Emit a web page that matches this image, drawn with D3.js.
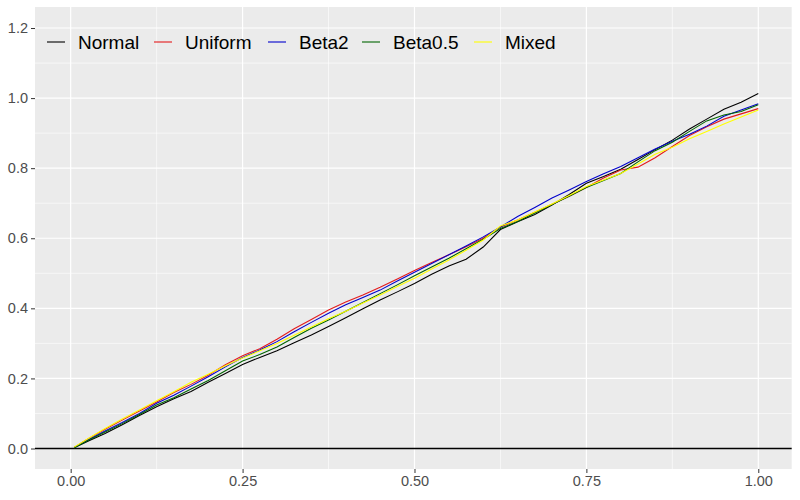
<!DOCTYPE html>
<html>
<head>
<meta charset="utf-8">
<script src="https://cdn.jsdelivr.net/npm/d3@7"></script>
<style>
  body { margin: 0; background: #fff; }
  text { font-family: "Liberation Sans", Arial, sans-serif; }
</style>
</head>
<body>
<svg id="chart" width="800" height="500"></svg>
<script>
// data
var xs = [0.005, 0.025, 0.05, 0.075, 0.1, 0.125, 0.15, 0.175, 0.2, 0.225, 0.25, 0.275, 0.3, 0.325, 0.35, 0.375, 0.4, 0.425, 0.45, 0.475, 0.5,
          0.525, 0.55, 0.575, 0.6, 0.625, 0.65, 0.675, 0.7, 0.725, 0.75, 0.775, 0.8, 0.825, 0.85, 0.875, 0.9, 0.925, 0.95, 0.975, 1.0];
var normalVals  = [0.002, 0.021, 0.043, 0.068, 0.094, 0.119, 0.142, 0.163, 0.189, 0.214, 0.240, 0.260, 0.279, 0.302, 0.324, 0.348, 0.373, 0.399, 0.424, 0.447, 0.471,
                   0.497, 0.521, 0.540, 0.575, 0.625, 0.647, 0.668, 0.695, 0.725, 0.757, 0.776, 0.797, 0.825, 0.853, 0.880, 0.912, 0.940, 0.968, 0.988, 1.013];
var uniformVals = [0.003, 0.027, 0.055, 0.081, 0.107, 0.133, 0.160, 0.183, 0.209, 0.239, 0.265, 0.285, 0.312, 0.342, 0.368, 0.395, 0.418, 0.438, 0.460, 0.484, 0.508,
                   0.531, 0.553, 0.576, 0.600, 0.632, 0.652, 0.674, 0.697, 0.720, 0.745, 0.772, 0.795, 0.803, 0.830, 0.862, 0.893, 0.918, 0.940, 0.955, 0.970];
var beta2Vals   = [0.002, 0.024, 0.050, 0.074, 0.100, 0.129, 0.152, 0.178, 0.205, 0.233, 0.260, 0.281, 0.305, 0.333, 0.360, 0.386, 0.410, 0.431, 0.452, 0.478, 0.503,
                   0.528, 0.553, 0.578, 0.604, 0.632, 0.662, 0.688, 0.715, 0.738, 0.762, 0.784, 0.805, 0.830, 0.855, 0.877, 0.897, 0.920, 0.948, 0.966, 0.984];
var beta05Vals  = [0.002, 0.023, 0.047, 0.071, 0.097, 0.124, 0.145, 0.170, 0.194, 0.222, 0.250, 0.268, 0.290, 0.317, 0.343, 0.367, 0.392, 0.417, 0.442, 0.467, 0.493,
                   0.518, 0.543, 0.570, 0.597, 0.628, 0.648, 0.672, 0.696, 0.720, 0.745, 0.765, 0.785, 0.818, 0.850, 0.874, 0.905, 0.935, 0.952, 0.962, 0.981];
var mixedVals   = [0.004, 0.028, 0.057, 0.084, 0.110, 0.136, 0.162, 0.189, 0.212, 0.236, 0.258, 0.279, 0.300, 0.323, 0.347, 0.370, 0.392, 0.415, 0.438, 0.462, 0.486,
                   0.512, 0.538, 0.566, 0.595, 0.635, 0.652, 0.675, 0.698, 0.722, 0.748, 0.766, 0.785, 0.812, 0.840, 0.860, 0.884, 0.905, 0.926, 0.946, 0.966];
var seriesNames = ["Normal", "Uniform", "Beta2", "Beta0.5", "Mixed"];
var seriesColors = ["#000000", "#E31A1C", "#0000CD", "#006400", "#FFFF00"];
var xTicks = [0, 0.25, 0.5, 0.75, 1.0];
var xMinor = [0.125, 0.375, 0.625, 0.875];
var yTicks = [0, 0.2, 0.4, 0.6, 0.8, 1.0, 1.2];
var yMinor = [0.1, 0.3, 0.5, 0.7, 0.9, 1.1];

var svg = d3.select("#chart");
const PANEL_L = 35, PANEL_R = 791.7, PANEL_T = 7, PANEL_B = 469;

var x = d3.scaleLinear().domain([-0.0519, 1.0486]).range([PANEL_L, PANEL_R]);
var y = d3.scaleLinear().domain([-0.0585, 1.26]).range([PANEL_B, PANEL_T]);

var allVals = [normalVals, uniformVals, beta2Vals, beta05Vals, mixedVals];

//パネル背景
svg.append("rect")
  .attr("x", PANEL_L).attr("y", PANEL_T)
  .attr("width", PANEL_R - PANEL_L).attr("height", PANEL_B - PANEL_T)
  .attr("fill", "#EBEBEB");

//グリッド
var grid = svg.append("g");
grid.selectAll(".xminor").data(xMinor).enter().append("line")
  .attr("x1", d => x(d)).attr("x2", d => x(d))
  .attr("y1", PANEL_T).attr("y2", PANEL_B)
  .attr("stroke", "#fff").attr("stroke-width", 0.6);
grid.selectAll(".yminor").data(yMinor).enter().append("line")
  .attr("y1", d => y(d)).attr("y2", d => y(d))
  .attr("x1", PANEL_L).attr("x2", PANEL_R)
  .attr("stroke", "#fff").attr("stroke-width", 0.6);
grid.selectAll(".xmajor").data(xTicks).enter().append("line")
  .attr("x1", d => x(d)).attr("x2", d => x(d))
  .attr("y1", PANEL_T).attr("y2", PANEL_B)
  .attr("stroke", "#fff").attr("stroke-width", 1.2);
grid.selectAll(".ymajor").data(yTicks).enter().append("line")
  .attr("y1", d => y(d)).attr("y2", d => y(d))
  .attr("x1", PANEL_L).attr("x2", PANEL_R)
  .attr("stroke", "#fff").attr("stroke-width", 1.2);

//軸
var xAxis = svg.append("g")
  .attr("transform", "translate(0," + PANEL_B + ")")
  .call(d3.axisBottom(x).tickValues(xTicks).tickFormat(d3.format(".2f")).tickSize(4).tickPadding(3));
var yAxis = svg.append("g")
  .attr("transform", "translate(" + PANEL_L + ",0)")
  .call(d3.axisLeft(y).tickValues(yTicks).tickFormat(d3.format(".1f")).tickSize(4).tickPadding(3));
[xAxis, yAxis].forEach(function(a){
  a.select(".domain").remove();
  a.selectAll(".tick line").attr("stroke", "#333").attr("stroke-width", 1);
  a.selectAll(".tick text").attr("fill", "#4D4D4D").style("font-size", "14.5px")
    .style("font-family", "'Liberation Sans', Arial, sans-serif");
});

//ゼロ線
svg.append("line")
  .attr("x1", PANEL_L).attr("x2", PANEL_R)
  .attr("y1", y(0)).attr("y2", y(0))
  .attr("stroke", "#000").attr("stroke-width", 1.3);

//系列
var line = d3.line().x((d, i) => x(xs[i])).y(d => y(d));
svg.append("g").selectAll("path")
  .data(allVals)
  .enter()
  .append("path")
  .attr("d", d => line(d))
  .attr("fill", "none")
  .attr("stroke", (d, i) => seriesColors[i])
  .attr("stroke-width", 1.1);

//凡例
var legendX = [47, 154, 268, 362, 474];
var legend = svg.append("g");
seriesNames.forEach(function(name, i){
  legend.append("line")
    .attr("x1", legendX[i]).attr("x2", legendX[i] + 18)
    .attr("y1", 42).attr("y2", 42)
    .attr("stroke", seriesColors[i]).attr("stroke-width", 1.1);
  legend.append("text")
    .attr("x", legendX[i] + 31).attr("y", 49)
    .style("font-size", "19px")
    .attr("fill", "#000")
    .text(name);
});
</script>
</body>
</html>
